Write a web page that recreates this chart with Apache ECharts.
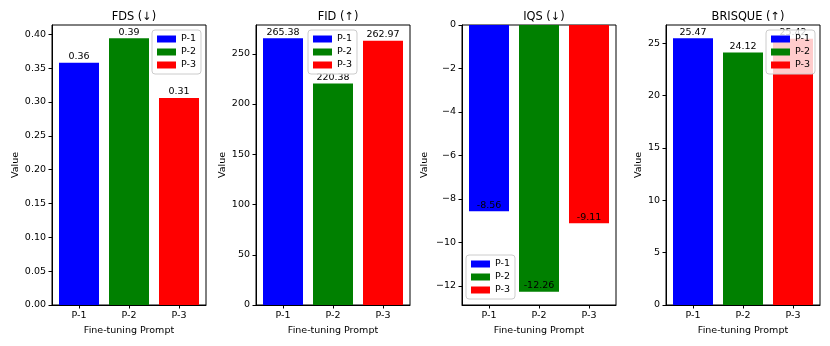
<!DOCTYPE html>
<html>
<head>
<meta charset="utf-8">
<script src="https://cdn.jsdelivr.net/npm/echarts@6/dist/echarts.min.js"></script>
<style>
  html, body { margin: 0; padding: 0; background: #fff; }
  #chart { width: 830px; height: 346px; }
</style>
</head>
<body>
<div id="chart"></div>
<script>
// Data
const prompts = ['P-1', 'P-2', 'P-3'];
const colors = ['#0000ff', '#008000', '#ff0000'];

const metricTitles = ['FDS (↓)', 'FID (↑)', 'IQS (↓)', 'BRISQUE (↑)'];
const fdsValues = [0.358, 0.394, 0.306];
const fidValues = [265.38, 220.38, 262.97];
const iqsValues = [-8.56, -12.26, -9.11];
const brisqueValues = [25.47, 24.12, 25.42];

const fdsTicks = [0, 0.05, 0.1, 0.15, 0.2, 0.25, 0.3, 0.35, 0.4];
const fidTicks = [0, 50, 100, 150, 200, 250];
const iqsTicks = [-12, -10, -8, -6, -4, -2, 0];
const brisqueTicks = [0, 5, 10, 15, 20, 25];

const FONT = 'DejaVu Sans';
const FS = 9.5;

// per-panel layout
const panels = [
    { values: fdsValues, ticks: fdsTicks, min: 0, max: 0.4137, left: 52, nameGap: 31, fmt: v => v.toFixed(2),
      legend: { left: 152, top: 30 }, labelPos: 'top' },
    { values: fidValues, ticks: fidTicks, min: 0, max: 278.65, left: 256, nameGap: 28, fmt: v => String(v),
      legend: { left: 308, top: 30 }, labelPos: 'top' },
    { values: iqsValues, ticks: iqsTicks, min: -12.873, max: 0, left: 462, nameGap: 32, fmt: v => String(v).replace('-', '\u2212'),
      legend: { left: 466, top: 255 }, labelPos: 'insideBottom' },
    { values: brisqueValues, ticks: brisqueTicks, min: 0, max: 26.74, left: 666, nameGap: 22, fmt: v => String(v),
      legend: { left: 766, top: 30 }, labelPos: 'top' },
];

const chart = echarts.init(document.getElementById('chart'));

const grid = [], xAxis = [], yAxis = [], title = [], legend = [], series = [];

panels.forEach((p, i) => {
    grid.push({
        left: p.left, top: 25, width: 154, height: 280,
        show: true, borderColor: '#000', borderWidth: 1, backgroundColor: 'transparent'
    });
    title.push({
        text: metricTitles[i],
        left: p.left + 77, top: 7, textAlign: 'center',
        textStyle: { fontFamily: FONT, fontSize: 11.4, fontWeight: 'normal', color: '#000' }
    });
    xAxis.push({
        type: 'value', gridIndex: i, min: -0.54, max: 2.54,
        name: 'Fine-tuning Prompt', nameLocation: 'middle', nameGap: 20,
        nameTextStyle: { fontFamily: FONT, fontSize: FS, color: '#000' },
        axisLine: { show: true, onZero: false, lineStyle: { color: '#000' } },
        axisTick: { show: true, length: 3.5, customValues: [0, 1, 2], lineStyle: { color: '#000' } },
        axisLabel: { customValues: [0, 1, 2], formatter: v => prompts[v] ?? '', fontFamily: FONT, fontSize: FS, color: '#000', margin: 6 },
        splitLine: { show: false }
    });
    yAxis.push({
        type: 'value', gridIndex: i, min: p.min, max: p.max,
        name: 'Value', nameLocation: 'middle', nameGap: p.nameGap,
        nameTextStyle: { fontFamily: FONT, fontSize: FS, color: '#000' },
        axisLine: { show: true, onZero: false, lineStyle: { color: '#000' } },
        axisTick: { show: true, length: 3.5, customValues: p.ticks, lineStyle: { color: '#000' } },
        axisLabel: { customValues: p.ticks, formatter: p.fmt, fontFamily: FONT, fontSize: FS, color: '#000', margin: 6 },
        splitLine: { show: false }
    });
    legend.push({
        data: prompts, orient: 'vertical', left: p.legend.left, top: p.legend.top,
        icon: 'rect', itemWidth: 19, itemHeight: 7, itemGap: 3,
        padding: [4, 5], backgroundColor: 'rgba(255,255,255,0.8)',
        borderColor: '#cccccc', borderWidth: 1, borderRadius: 3,
        textStyle: { fontFamily: FONT, fontSize: FS, color: '#000' },
        selectedMode: false, z: 10
    });
    prompts.forEach((name, j) => {
        series.push({
            name: name, type: 'bar', xAxisIndex: i, yAxisIndex: i,
            data: [[j, p.values[j]]],
            barWidth: 40, barGap: '-100%',
            itemStyle: { color: colors[j] },
            label: {
                show: true, position: p.labelPos, distance: 1,
                formatter: d => d.value[1].toFixed(2),
                fontFamily: FONT, fontSize: FS, color: '#000'
            },
            silent: true
        });
    });
});

chart.setOption({
    animation: false,
    backgroundColor: '#fff',
    grid, xAxis, yAxis, title, legend, series
});
</script>
</body>
</html>
